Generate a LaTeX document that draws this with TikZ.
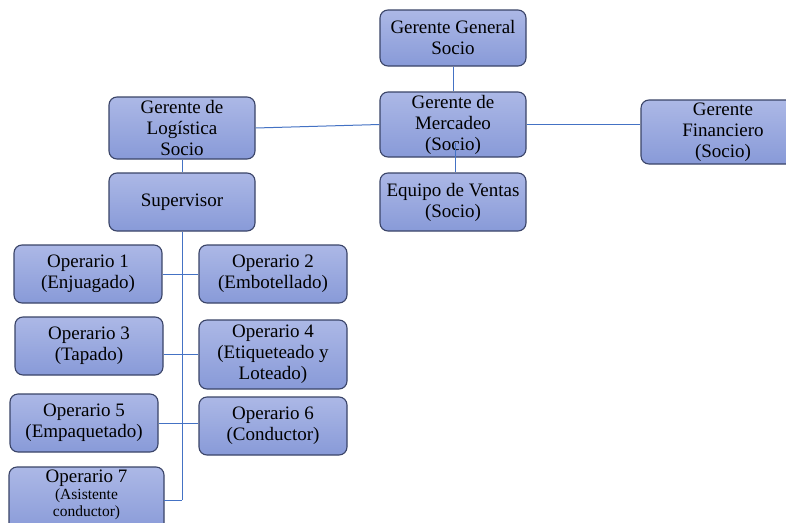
\documentclass[tikz,border=0pt]{standalone}
\usepackage{fontspec}
\setmainfont{Liberation Serif}
\definecolor{boxtop}{RGB}{172,184,230}
\definecolor{boxbot}{RGB}{136,154,216}
\definecolor{boxedge}{RGB}{58,68,104}
\definecolor{linkc}{RGB}{68,114,196}
\tikzset{
  box/.style={draw=boxedge, line width=1.1pt, rounded corners=8pt,
    top color=boxtop, bottom color=boxbot, align=center, inner sep=0pt,
    font=\fontsize{19}{21}\selectfont},
  link/.style={draw=linkc, line width=1pt},
  boxtext/.style={align=center, inner sep=0pt}
}
\begin{document}
\begin{tikzpicture}[x=1pt,y=-1pt]
\useasboundingbox (0,0) rectangle (786,522);
\clip (0,0) rectangle (786,522);
\fill[white] (0,0) rectangle (786,522);
\node[box, minimum width=146pt, minimum height=56pt] (gg) at (453,38) {Gerente General\\Socio};
\node[box, minimum width=146pt, minimum height=65pt] (gm) at (453,124.5) {Gerente de\\Mercadeo\\(Socio)};
\node[box, minimum width=146pt, minimum height=58pt] (ev) at (453,202) {Equipo de Ventas\\(Socio)};
\node[box, minimum width=164pt, minimum height=64pt] (gf) at (723,132) {Gerente\\Financiero\\(Socio)};
\node[box, minimum width=146pt, minimum height=62pt] (gl) at (182,128) {Gerente de\\Logística\\Socio};
\node[box, minimum width=146pt, minimum height=58pt] (sup) at (182,202) {Supervisor};
\node[box, minimum width=148pt, minimum height=58pt] (op1) at (88,274) {Operario 1\\(Enjuagado)};
\node[box, minimum width=148pt, minimum height=58pt] (op2) at (273,274) {Operario 2\\(Embotellado)};
\node[box, minimum width=148pt, minimum height=58pt] (op3) at (89,346) {Operario 3\\(Tapado)};
\node[box, minimum width=148pt, minimum height=69pt] (op4) at (273,354.5) {Operario 4\\(Etiqueteado y\\Loteado)};
\node[box, minimum width=148pt, minimum height=58pt] (op5) at (84,423) {Operario 5\\(Empaquetado)};
\node[box, minimum width=148pt, minimum height=58pt] (op6) at (273,426) {Operario 6\\(Conductor)};
\node[box, minimum width=155pt, minimum height=66pt] (op7) at (86.5,500) {};
\node[boxtext, anchor=north, font=\fontsize{15.5}{17}\selectfont] (op7t) at (86.5,470) {{\fontsize{19}{17}\selectfont Operario 7}\\(Asistente\\conductor)};
\coordinate (gmin) at (455,143);
\coordinate (op7r) at (164,500);
\draw[link] (gg.south) -- (gm.north);
\draw[link] (gmin) -- (gmin |- ev.north);
\draw[link] (gl.east) -- (gm.west);
\draw[link] (gm.east) -- (gm.east -| gf.west);
\draw[link] (gl.south) -- (sup.north);
\draw[link] (sup.south) -- (sup.south |- op7r);
\draw[link] (op1.east) -- (op2.west);
\draw[link] (op4.west -| op3.east) -- (op4.west);
\draw[link] (op5.east) -- (op5.east -| op6.west);
\draw[link] (op7r) -- (op7r -| sup.south);
\end{tikzpicture}
\end{document}
